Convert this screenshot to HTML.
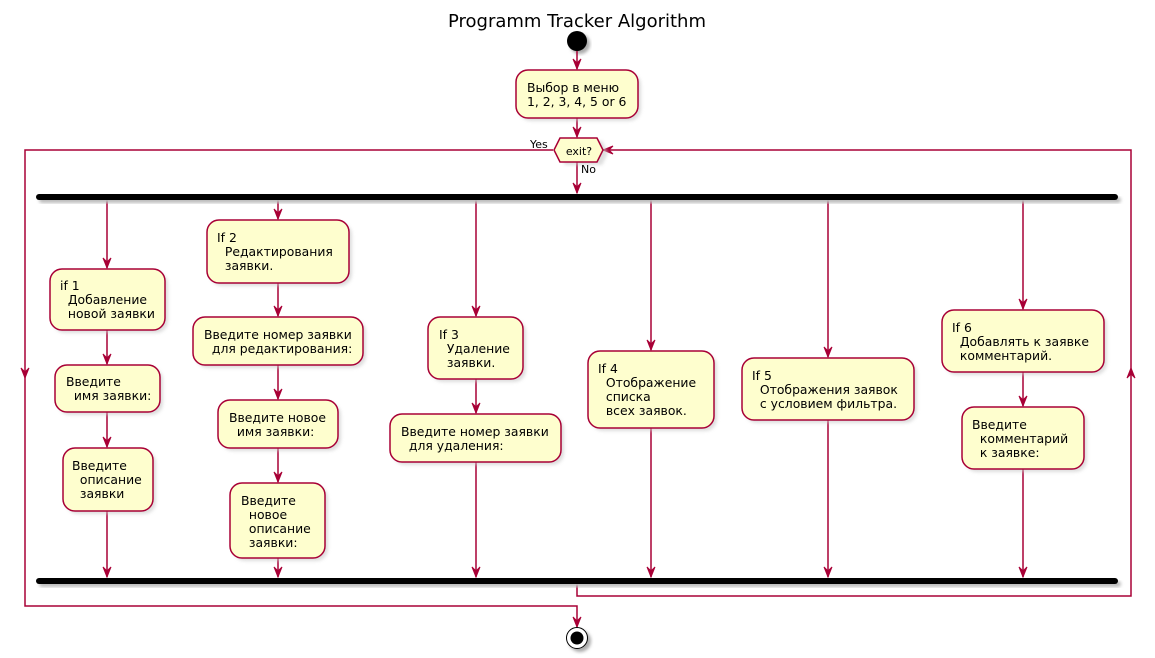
<!DOCTYPE html>
<html><head><meta charset="utf-8"><style>
html,body{margin:0;padding:0;background:#fff}
svg{display:block}
text{font-family:"DejaVu Sans","Liberation Sans",sans-serif;font-size:12.4px;fill:#000;white-space:pre}
.b{fill:#FEFECE;stroke:#A80036;stroke-width:1.5}
.s{fill:#c8c8c8;opacity:.6}
.l{stroke:#A80036;stroke-width:1.5;fill:none}
.a{fill:#A80036;stroke:#A80036}
</style></head><body>
<svg width="1155" height="658" xmlns="http://www.w3.org/2000/svg">
<defs><filter id="f"><feGaussianBlur stdDeviation="1.5"/></filter></defs>
<text x="577" y="27" text-anchor="middle" style="font-size:18px">Programm Tracker Algorithm</text>
<circle cx="580" cy="44" r="10" fill="#aaa" filter="url(#f)"/>
<circle cx="577" cy="41" r="10" fill="#000"/>
<path class="l" d="M577 51 V69 M577 118 V137 M577 162 V193"/>
<path class="l" d="M553 150 H25 V606 H577 V627"/>
<path class="l" d="M577 584 V596 H1131 V150 H603"/>
<path class="l" d="M107 200 V268 M107 330 V364 M107 412 V447 M107 511 V577"/>
<path class="l" d="M278 200 V219 M278 283 V316 M278 365 V399 M278 448 V482 M278 558 V577"/>
<path class="l" d="M476 200 V316 M476 379 V413 M476 462 V577"/>
<path class="l" d="M651 200 V350 M651 428 V577"/>
<path class="l" d="M828 200 V357 M828 420 V577"/>
<path class="l" d="M1023 200 V309 M1023 372 V406 M1023 469 V577"/>
<g class="a">
<polygon points="573,59 577,69 581,59 577,63"/>
<polygon points="573,127 577,137 581,127 577,131"/>
<polygon points="573,183 577,193 581,183 577,187"/>
<polygon points="573,617 577,627 581,617 577,621"/>
<polygon points="21,368 25,378 29,368 25,372"/>
<polygon points="1127,378 1131,368 1135,378 1131,374"/>
<polygon points="613,146 603,150 613,154 609,150"/>
<polygon points="103,258 107,268 111,258 107,262"/>
<polygon points="103,354 107,364 111,354 107,358"/>
<polygon points="103,437 107,447 111,437 107,441"/>
<polygon points="103,567 107,577 111,567 107,571"/>
<polygon points="274,209 278,219 282,209 278,213"/>
<polygon points="274,306 278,316 282,306 278,310"/>
<polygon points="274,389 278,399 282,389 278,393"/>
<polygon points="274,472 278,482 282,472 278,476"/>
<polygon points="274,567 278,577 282,567 278,571"/>
<polygon points="472,306 476,316 480,306 476,310"/>
<polygon points="472,403 476,413 480,403 476,407"/>
<polygon points="472,567 476,577 480,567 476,571"/>
<polygon points="647,340 651,350 655,340 651,344"/>
<polygon points="647,567 651,577 655,567 651,571"/>
<polygon points="824,347 828,357 832,347 828,351"/>
<polygon points="824,567 828,577 832,567 828,571"/>
<polygon points="1019,299 1023,309 1027,299 1023,303"/>
<polygon points="1019,396 1023,406 1027,396 1023,400"/>
<polygon points="1019,567 1023,577 1027,567 1023,571"/>
</g>
<rect x="39" y="197" width="1082" height="6" rx="3" fill="#bbb" filter="url(#f)"/>
<rect x="36" y="194" width="1082" height="6" rx="3" fill="#000"/>
<rect x="39" y="581" width="1082" height="6" rx="3" fill="#bbb" filter="url(#f)"/>
<rect x="36" y="578" width="1082" height="6" rx="3" fill="#000"/>
<rect class="s" x="519" y="73" width="122" height="48" rx="12" filter="url(#f)"/>
<rect class="b" x="516" y="70" width="122" height="48" rx="12"/>
<text x="527" y="92">Выбор в меню</text><text x="527" y="106">1, 2, 3, 4, 5 or 6</text>
<polygon class="s" points="565,141 602,141 608,153 602,165 565,165 559,153" filter="url(#f)"/>
<polygon class="b" points="560,138 597,138 603,150 597,162 560,162 554,150"/>
<text x="579" y="155" text-anchor="middle" style="font-size:11px">exit?</text>
<text x="530" y="148" style="font-size:11px">Yes</text>
<text x="581" y="173" style="font-size:11px">No</text>
<g>
<rect class="s" x="53" y="272" width="115" height="61" rx="12" filter="url(#f)"/>
<rect class="b" x="50" y="269" width="115" height="61" rx="12"/>
<text x="60" y="290">if 1</text><text x="60" y="304">  Добавление</text><text x="60" y="318">  новой заявки</text>
<rect class="s" x="58" y="368" width="105" height="47" rx="12" filter="url(#f)"/>
<rect class="b" x="55" y="365" width="105" height="47" rx="12"/>
<text x="66" y="386">Введите</text><text x="66" y="400">  имя заявки:</text>
<rect class="s" x="66" y="451" width="90" height="63" rx="12" filter="url(#f)"/>
<rect class="b" x="63" y="448" width="90" height="63" rx="12"/>
<text x="72" y="470">Введите</text><text x="72" y="484">  описание</text><text x="72" y="498">  заявки</text>
<rect class="s" x="210" y="223" width="142" height="63" rx="12" filter="url(#f)"/>
<rect class="b" x="207" y="220" width="142" height="63" rx="12"/>
<text x="217" y="242">If 2</text><text x="217" y="256">  Редактирования</text><text x="217" y="270">  заявки.</text>
<rect class="s" x="196" y="320" width="170" height="48" rx="12" filter="url(#f)"/>
<rect class="b" x="193" y="317" width="170" height="48" rx="12"/>
<text x="204" y="339">Введите номер заявки</text><text x="204" y="353">  для редактирования:</text>
<rect class="s" x="221" y="403" width="120" height="48" rx="12" filter="url(#f)"/>
<rect class="b" x="218" y="400" width="120" height="48" rx="12"/>
<text x="229" y="422">Введите новое</text><text x="229" y="436">  имя заявки:</text>
<rect class="s" x="233" y="486" width="95" height="75" rx="12" filter="url(#f)"/>
<rect class="b" x="230" y="483" width="95" height="75" rx="12"/>
<text x="241" y="505">Введите</text><text x="241" y="519">  новое</text><text x="241" y="533">  описание</text><text x="241" y="547">  заявки:</text>
<rect class="s" x="431" y="320" width="95" height="62" rx="12" filter="url(#f)"/>
<rect class="b" x="428" y="317" width="95" height="62" rx="12"/>
<text x="439" y="339">If 3</text><text x="439" y="353">  Удаление</text><text x="439" y="367">  заявки.</text>
<rect class="s" x="393" y="417" width="171" height="48" rx="12" filter="url(#f)"/>
<rect class="b" x="390" y="414" width="171" height="48" rx="12"/>
<text x="401" y="436">Введите номер заявки</text><text x="401" y="450">  для удаления:</text>
<rect class="s" x="591" y="354" width="126" height="77" rx="12" filter="url(#f)"/>
<rect class="b" x="588" y="351" width="126" height="77" rx="12"/>
<text x="598" y="373">If 4</text><text x="598" y="387">  Отображение</text><text x="598" y="401">  списка</text><text x="598" y="415">  всех заявок.</text>
<rect class="s" x="745" y="361" width="172" height="62" rx="12" filter="url(#f)"/>
<rect class="b" x="742" y="358" width="172" height="62" rx="12"/>
<text x="752" y="380">If 5</text><text x="752" y="394">  Отображения заявок</text><text x="752" y="408">  с условием фильтра.</text>
<rect class="s" x="945" y="313" width="162" height="62" rx="12" filter="url(#f)"/>
<rect class="b" x="942" y="310" width="162" height="62" rx="12"/>
<text x="952" y="332">If 6</text><text x="952" y="346">  Добавлять к заявке</text><text x="952" y="360">  комментарий.</text>
<rect class="s" x="965" y="410" width="122" height="62" rx="12" filter="url(#f)"/>
<rect class="b" x="962" y="407" width="122" height="62" rx="12"/>
<text x="972" y="429">Введите</text><text x="972" y="443">  комментарий</text><text x="972" y="457">  к заявке:</text>
</g>
<circle cx="580" cy="641" r="11" fill="#aaa" filter="url(#f)"/>
<circle cx="577" cy="638" r="10.5" fill="#fff" stroke="#000" stroke-width="1"/>
<circle cx="577" cy="638" r="6.5" fill="#000"/>
</svg>
</body></html>
